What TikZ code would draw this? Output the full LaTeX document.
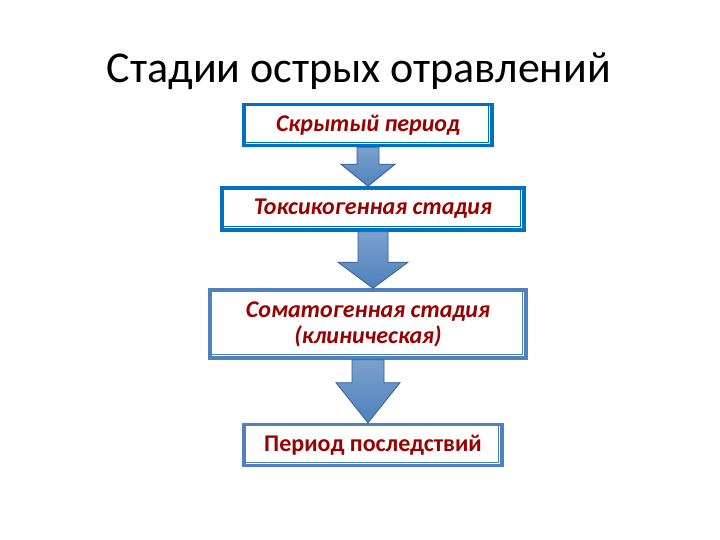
\documentclass[tikz,border=0pt]{standalone}
\usepackage{fontspec}
\setmainfont{Carlito}
\usetikzlibrary{positioning,calc}
\definecolor{brightblue}{RGB}{0,112,192}
\definecolor{steelblue}{RGB}{79,129,189}
\definecolor{darksteel}{RGB}{56,93,138}
\definecolor{darkred}{RGB}{153,0,0}

% block arrow from the bottom of one box to the top of the next
\newcommand{\stagearrow}[5]{%
  \path[stagearr] let \p1=(#1.south), \p2=(#2.north) in
    (\x1-#3pt,\y1) -- (\x1+#3pt,\y1) -- (\x1+#3pt,\y2+#5pt) -- (\x1+#4pt,\y2+#5pt)
    -- (\x1,\y2) -- (\x1-#4pt,\y2+#5pt) -- (\x1-#3pt,\y2+#5pt) -- cycle;}

\begin{document}
\begin{tikzpicture}[
    x=1pt, y=1pt,
    stagebox/.style={draw, line width=3.5pt, fill=white, inner sep=0pt, align=center,
      font=\fontsize{24}{26}\selectfont\bfseries\itshape, text=darkred},
    stagearr/.style={draw=darksteel, line width=0.8pt, top color=steelblue!75, bottom color=steelblue},
    inner/.style={line width=0.8pt}
]
\useasboundingbox[fill=white] (0,0) rectangle (720,540);

\node[font=\fontsize{44}{48}\selectfont] (title) at (359,469) {Стадии острых отравлений};

\node[stagebox, draw=brightblue, minimum width=248, minimum height=41] (latent) at (368,415) {Скрытый период};
\node[stagebox, draw=brightblue, minimum width=302, minimum height=42] (toxic) at (373,331) {Токсикогенная стадия};
\node[stagebox, draw=steelblue, minimum width=316, minimum height=68] (somatic) at (368,216)
  {Соматогенная стадия\\(клиническая)};
\node[stagebox, draw=steelblue, minimum width=258, minimum height=41,
  font=\fontsize{24}{26}\selectfont\bfseries] (after) at (373,95) {Период последствий};

% thin inner line of the double border
\foreach \b/\c in {latent/brightblue, toxic/brightblue, somatic/steelblue, after/steelblue}
  \draw[inner, \c] ($(\b.south west)+(3,5)$) -- ($(\b.south east)+(-5,5)$) -- ($(\b.north east)+(-5,-3)$);

\stagearrow{latent}{toxic}{11}{27}{22}
\stagearrow{toxic}{somatic}{15}{35}{26}
\stagearrow{somatic}{after}{16}{32}{40}
\end{tikzpicture}
\end{document}
